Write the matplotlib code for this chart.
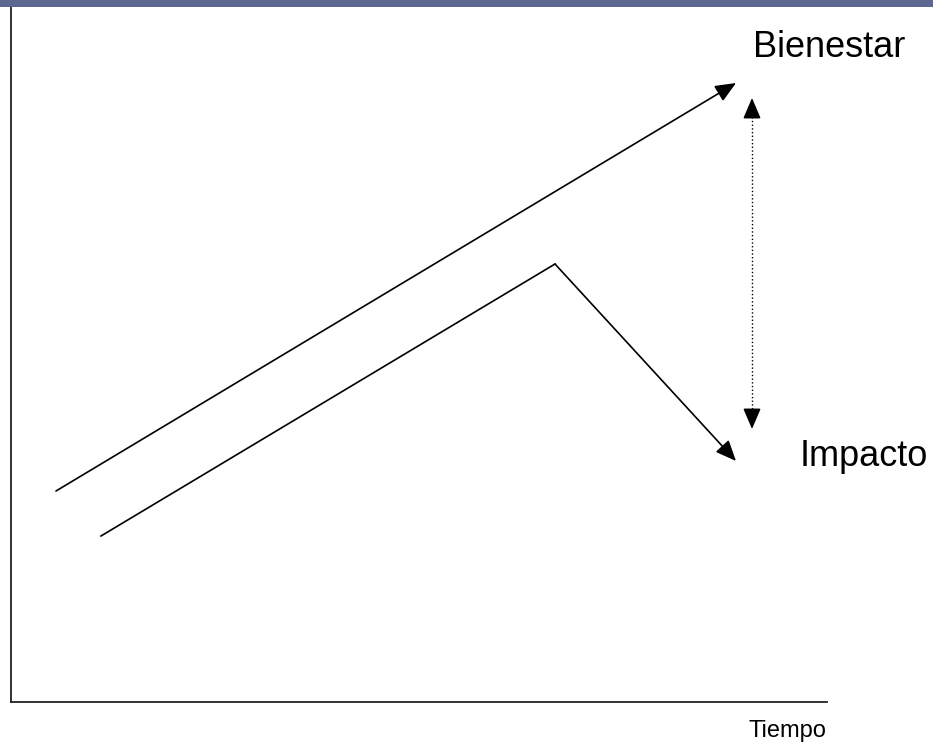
import matplotlib
matplotlib.use("Agg")
import matplotlib.pyplot as plt
from matplotlib.patches import Rectangle

plt.rcParams['font.family'] = ['Liberation Sans', 'DejaVu Sans']

# data (units: time on x, level on y)
bienestar_t = [45, 725]
bienestar_v = [211, 619]
impacto_t = [90, 544, 725]
impacto_v = [166, 438, 241]
gap_t = 741
gap_v = [604, 273]

fig = plt.figure(figsize=(9.33, 7.43), dpi=100)
W, H = 933, 743

# slide header strip
fig.patches.append(Rectangle((0, 1 - 7 / H), 1, 7 / H, transform=fig.transFigure,
                             facecolor='#5d6792', edgecolor='none', zorder=0))

ax = fig.add_axes([11 / W, (H - 702) / H, 816 / W, 695 / H])
ax.set_xlim(0, 816)
ax.set_ylim(0, 695)
ax.spines['top'].set_visible(False)
ax.spines['right'].set_visible(False)
ax.spines['left'].set_linewidth(1.3)
ax.spines['bottom'].set_linewidth(1.3)
ax.spines['left'].set_color('#222222')
ax.spines['bottom'].set_color('#222222')
ax.set_xticks([])
ax.set_yticks([])

head = '-|>,head_length=0.42,head_width=0.18'
arrow = dict(arrowstyle=head, mutation_scale=30, lw=1.2, color='black',
             shrinkA=0, shrinkB=0)

# upper line: Bienestar
ax.annotate('', xy=(bienestar_t[1], bienestar_v[1]), xytext=(bienestar_t[0], bienestar_v[0]),
            arrowprops=arrow)

# lower line: Impacto
ax.plot(impacto_t[:2], impacto_v[:2], color='black', lw=1.2)
ax.annotate('', xy=(impacto_t[2], impacto_v[2]), xytext=(impacto_t[1], impacto_v[1]),
            arrowprops=arrow)

# dotted gap arrow
ax.plot([gap_t, gap_t], [gap_v[0] - 15, gap_v[1] + 15], color='black', lw=1, linestyle=':')
ax.annotate('', xy=(gap_t, gap_v[0]), xytext=(gap_t, gap_v[0] - 14), arrowprops=arrow)
ax.annotate('', xy=(gap_t, gap_v[1]), xytext=(gap_t, gap_v[1] + 14), arrowprops=arrow)

ax.text(742, 645, 'Bienestar', fontsize=26, va='baseline', ha='left', clip_on=False)
ax.text(789, 236, 'Impacto', fontsize=26, va='baseline', ha='left', clip_on=False)
ax.text(737, -35, 'Tiempo', fontsize=17, va='baseline', ha='left', clip_on=False)

fig.savefig('out.png', dpi=100)
